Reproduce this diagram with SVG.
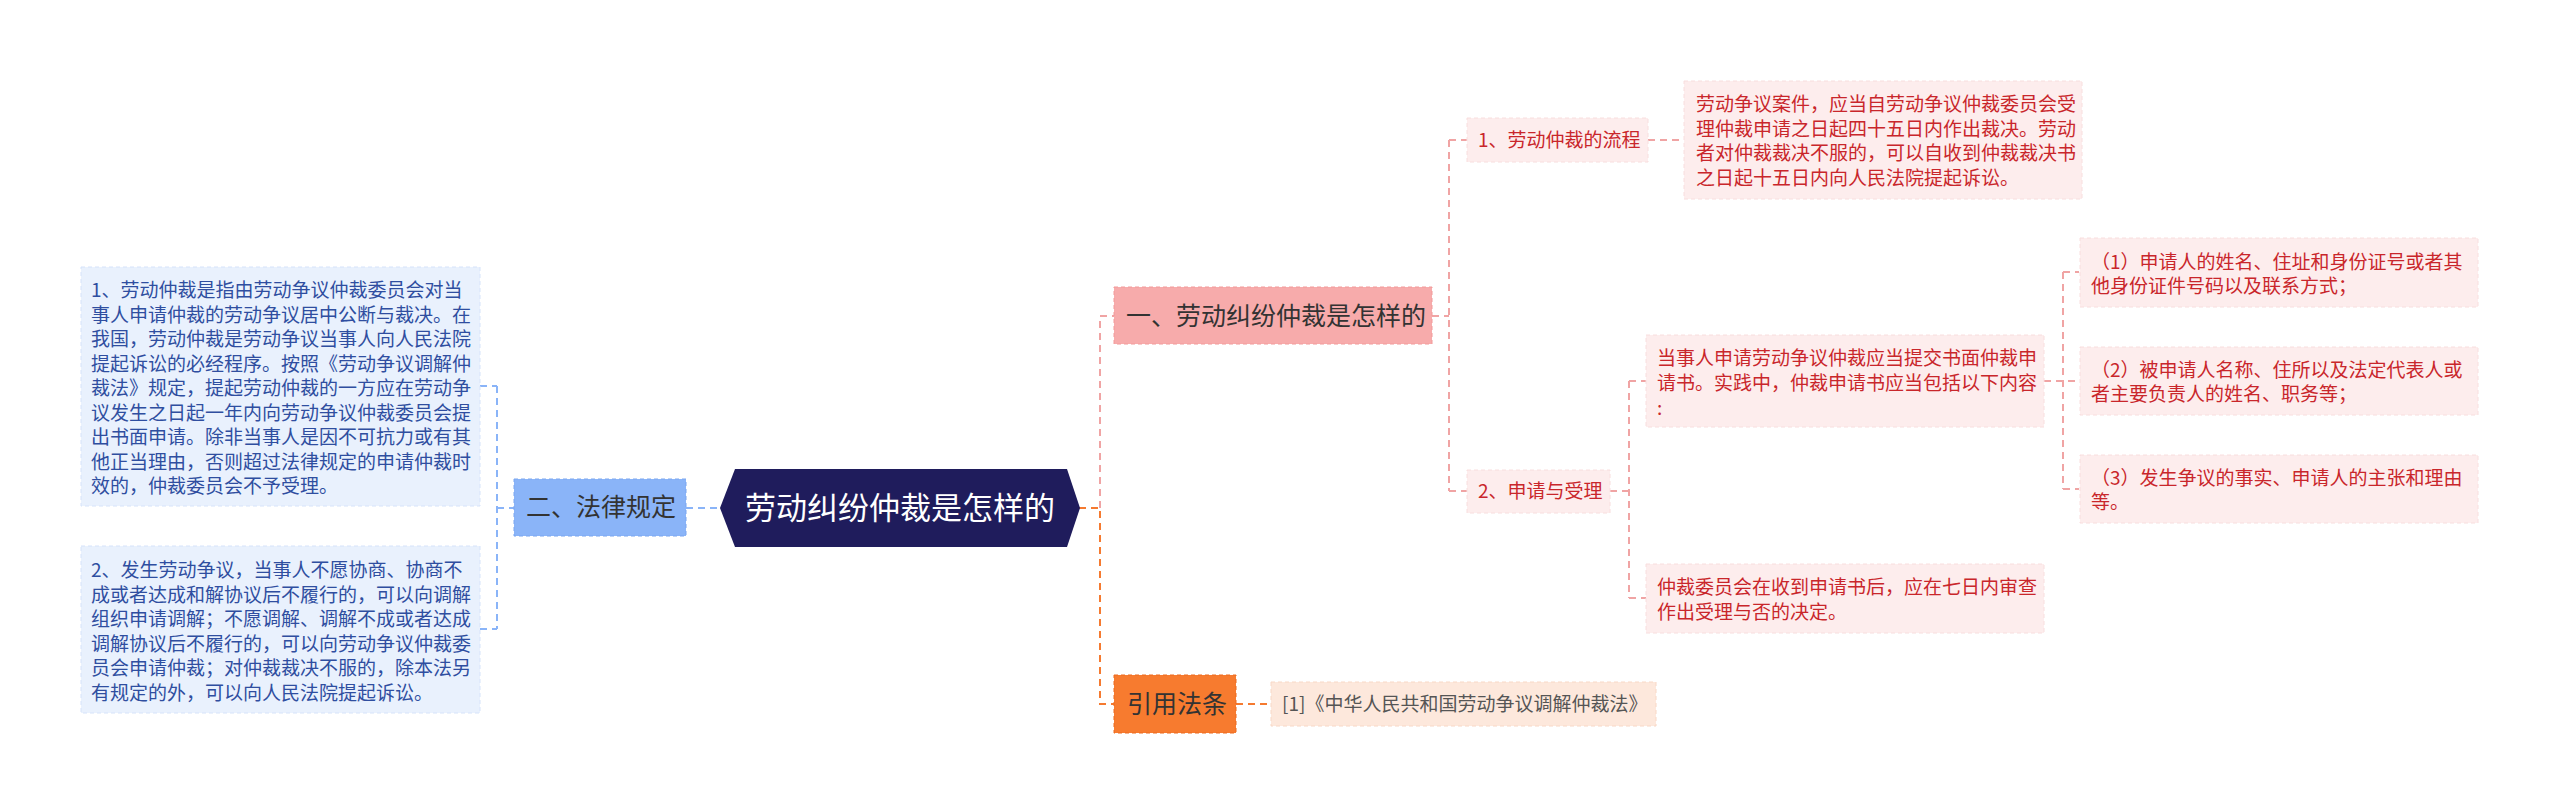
<svg xmlns="http://www.w3.org/2000/svg" width="2560" height="811" viewBox="0 0 2560 811">
<style>
text{font-family:"Noto Sans CJK SC","Noto Sans",sans-serif;}
.lb{fill:#e9f1fd;stroke:#d6e3fa;stroke-dasharray:4 3;}
.lt{font-size:19px;fill:#2f4ea0;}
.pk{fill:#fdeded;stroke:#f8dede;stroke-dasharray:4 3;}
.rt{font-size:19px;fill:#c9262b;}
.big{font-size:25px;fill:#333;}
.c{fill:none;stroke-width:2;stroke-dasharray:7 5;}
.cb{stroke:#8ab4f8;}
.cp{stroke:#f0a4a4;}
.co{stroke:#f57a30;}
</style>
<rect width="2560" height="811" fill="#fff"/>
<g id="connectors">
<path class="c cb" d="M686,508 H720 M497,386 V629 M480,386 H497 M480,629 H497 M497,508 H514"/>
<path class="c co" d="M1079,508 H1100 V704 H1114 M1236,704 H1271"/>
<path class="c cp" d="M1100,508 V316 H1114 M1432,316 H1449 M1449,140 V491 M1449,140 H1467 M1449,491 H1467 M1648,140 H1684 M1610,491 H1629 M1629,381 V598 M1629,381 H1646 M1629,598 H1646 M2044,381 H2079 M2063,272 V489 M2063,272 H2079 M2063,489 H2079"/>
</g>
<g id="root">
<polygon points="720,508 735,469 1067,469 1080,508 1067,547 735,547" fill="#1f1c5c"/>
<text x="900" y="519" font-size="31" fill="#fff" text-anchor="middle">劳动纠纷仲裁是怎样的</text>
</g>
<g id="n-law">
<rect x="514" y="479" width="172" height="57" fill="#8ab4f8" stroke="#7aa6f0" stroke-dasharray="4 3"/>
<text x="526" y="516" class="big">二、法律规定</text>
</g>
<g id="n-law1">
<rect class="lb" x="81" y="267" width="399" height="239"/>
<text class="lt"><tspan x="91" y="297">1、劳动仲裁是指由劳动争议仲裁委员会对当</tspan><tspan x="91" y="321.5">事人申请仲裁的劳动争议居中公断与裁决。在</tspan><tspan x="91" y="346">我国，劳动仲裁是劳动争议当事人向人民法院</tspan><tspan x="91" y="370.5">提起诉讼的必经程序。按照《劳动争议调解仲</tspan><tspan x="91" y="395">裁法》规定，提起劳动仲裁的一方应在劳动争</tspan><tspan x="91" y="419.5">议发生之日起一年内向劳动争议仲裁委员会提</tspan><tspan x="91" y="444">出书面申请。除非当事人是因不可抗力或有其</tspan><tspan x="91" y="468.5">他正当理由，否则超过法律规定的申请仲裁时</tspan><tspan x="91" y="493">效的，仲裁委员会不予受理。</tspan></text>
</g>
<g id="n-law2">
<rect class="lb" x="81" y="546" width="399" height="167"/>
<text class="lt"><tspan x="91" y="577">2、发生劳动争议，当事人不愿协商、协商不</tspan><tspan x="91" y="601.6">成或者达成和解协议后不履行的，可以向调解</tspan><tspan x="91" y="626.2">组织申请调解；不愿调解、调解不成或者达成</tspan><tspan x="91" y="650.8">调解协议后不履行的，可以向劳动争议仲裁委</tspan><tspan x="91" y="675.4">员会申请仲裁；对仲裁裁决不服的，除本法另</tspan><tspan x="91" y="700">有规定的外，可以向人民法院提起诉讼。</tspan></text>
</g>
<g id="n-one">
<rect x="1114" y="287" width="318" height="57" fill="#f7abab" stroke="#f29a9a" stroke-dasharray="4 3"/>
<text x="1126" y="325" class="big">一、劳动纠纷仲裁是怎样的</text>
</g>
<g id="n-flow">
<rect class="pk" x="1467" y="118" width="181" height="44"/>
<text x="1478" y="147" class="rt">1、劳动仲裁的流程</text>
</g>
<g id="n-flow-text">
<rect class="pk" x="1684" y="81" width="398" height="118"/>
<text class="rt"><tspan x="1696" y="111">劳动争议案件，应当自劳动争议仲裁委员会受</tspan><tspan x="1696" y="136">理仲裁申请之日起四十五日内作出裁决。劳动</tspan><tspan x="1696" y="160">者对仲裁裁决不服的，可以自收到仲裁裁决书</tspan><tspan x="1696" y="185">之日起十五日内向人民法院提起诉讼。</tspan></text>
</g>
<g id="n-apply">
<rect class="pk" x="1467" y="470" width="143" height="43"/>
<text x="1478" y="498" class="rt">2、申请与受理</text>
</g>
<g id="n-apply1">
<rect class="pk" x="1646" y="335" width="398" height="92"/>
<text class="rt"><tspan x="1657" y="365">当事人申请劳动争议仲裁应当提交书面仲裁申</tspan><tspan x="1657" y="390">请书。实践中，仲裁申请书应当包括以下内容</tspan><tspan x="1657" y="415">:</tspan></text>
</g>
<g id="n-apply2">
<rect class="pk" x="1646" y="564" width="398" height="69"/>
<text class="rt"><tspan x="1657" y="594">仲裁委员会在收到申请书后，应在七日内审查</tspan><tspan x="1657" y="619">作出受理与否的决定。</tspan></text>
</g>
<g id="n-item1">
<rect class="pk" x="2080" y="238" width="398" height="69"/>
<text class="rt"><tspan x="2091" y="269">（1）申请人的姓名、住址和身份证号或者其</tspan><tspan x="2091" y="293">他身份证件号码以及联系方式；</tspan></text>
</g>
<g id="n-item2">
<rect class="pk" x="2080" y="347" width="398" height="68"/>
<text class="rt"><tspan x="2091" y="377">（2）被申请人名称、住所以及法定代表人或</tspan><tspan x="2091" y="401">者主要负责人的姓名、职务等；</tspan></text>
</g>
<g id="n-item3">
<rect class="pk" x="2080" y="455" width="398" height="68"/>
<text class="rt"><tspan x="2091" y="485">（3）发生争议的事实、申请人的主张和理由</tspan><tspan x="2091" y="509">等。</tspan></text>
</g>
<g id="n-cite">
<rect x="1114" y="675" width="122" height="58" fill="#f77b2f" stroke="#ec6a1e" stroke-dasharray="4 3"/>
<text x="1127" y="713" class="big">引用法条</text>
</g>
<g id="n-cite1">
<rect x="1271" y="682" width="385" height="44" fill="#fde8dc" stroke="#f8d8c6" stroke-dasharray="4 3"/>
<text x="1282" y="711" font-size="19" fill="#555">[1]《中华人民共和国劳动争议调解仲裁法》</text>
</g>
</svg>
